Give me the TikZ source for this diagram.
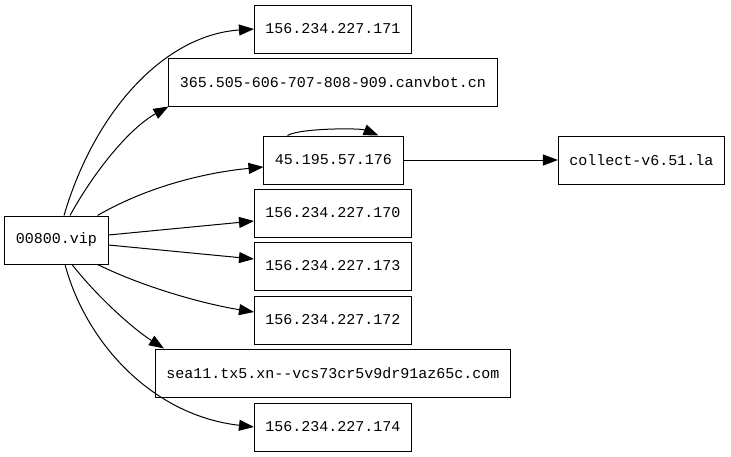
\documentclass[tikz,border=0pt]{standalone}
\usepackage{fontspec}
\setmonofont{Liberation Mono}
\usetikzlibrary{arrows.meta}

\tikzset{
  host/.style={draw=black, line width=1pt, rectangle, inner xsep=11pt, inner ysep=0pt,
    minimum height=48pt, font=\ttfamily\fontsize{15pt}{18pt}\selectfont},
  link/.style={draw=black, line width=1pt, -{Triangle[length=15pt,width=11pt]}}
}

\begin{document}
\begin{tikzpicture}[x=1pt,y=-1pt]
	\fill [white] (0,0) rectangle (731,456);
	\useasboundingbox (0,0) rectangle (731,456);
	% nodes
	\node [host] (vip) at (56.5,240) {00800.vip};
	\node [host] (ip171) at (333,29) {156.234.227.171};
	\node [host] (canv) at (333,82) {365.505-606-707-808-909.canvbot.cn};
	\node [host] (ip176) at (333.5,160) {45.195.57.176};
	\node [host] (coll) at (641.5,160) {collect-v6.51.la};
	\node [host] (ip170) at (333,213) {156.234.227.170};
	\node [host] (ip173) at (333,266) {156.234.227.173};
	\node [host] (ip172) at (333,320) {156.234.227.172};
	\node [host] (sea) at (333,373) {sea11.tx5.xn--vcs73cr5v9dr91az65c.com};
	\node [host] (ip174) at (333,427) {156.234.227.174};
	% edges
	\draw [link] ([xshift=7.5pt]vip.north) .. controls (95,110) and (165,35) .. (ip171.west);
	\draw [link] ([xshift=13.5pt]vip.north) .. controls (95,170) and (130,128) .. (canv.south west);
	\draw [link] ([xshift=-11pt]vip.north east) .. controls (150,185) and (210,172) .. ([yshift=-7pt]ip176.west);
	\draw [link] ([yshift=5pt]vip.east) -- ([yshift=-8pt]ip170.west);
	\draw [link] ([yshift=-5pt]vip.east) -- ([yshift=7pt]ip173.west);
	\draw [link] ([xshift=-11pt]vip.south east) .. controls (150,290) and (210,305) .. ([yshift=8pt]ip172.west);
	\draw [link] ([xshift=15.5pt]vip.south) .. controls (100,300) and (135,330) .. ([xshift=9pt]sea.north west);
	\draw [link] ([xshift=8.5pt]vip.south) .. controls (85,340) and (150,415) .. (ip174.west);
	\draw [link] ([xshift=24pt]ip176.north west) .. controls (300,128) and (360,128) .. ([xshift=-25pt]ip176.north east);
	\draw [link] (ip176.east) -- (coll.west);
\end{tikzpicture}
\end{document}
